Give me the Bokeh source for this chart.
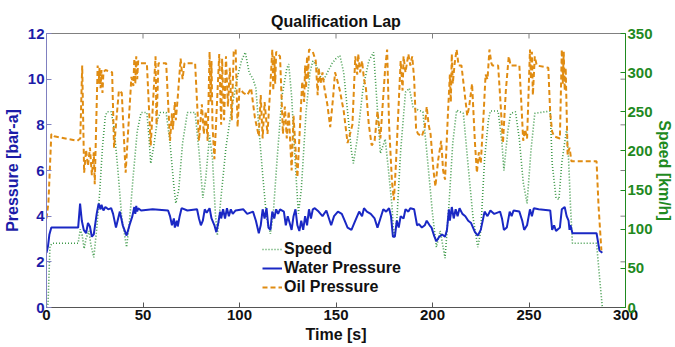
from bokeh.plotting import figure
from bokeh.models import Range1d, LinearAxis, Legend, LegendItem, FixedTicker
from bokeh.embed import file_html
from bokeh.resources import INLINE

# ---------------- data ----------------
oil_t = [0, 1, 2.5, 4, 16, 17.5, 18.5, 19.5, 20.5, 21.5, 22.5, 23.5, 24.5, 25, 26.5, 27, 27.5, 28, 28.5, 29, 29.5, 30.5,
         34, 35, 37.5, 39, 41, 44, 45, 45.5, 46, 46.5, 47, 47.5, 48.5, 52, 54, 56.5, 57, 58, 62, 64, 65, 65.5, 66.5, 67,
         68, 69.5, 70.5, 71.5, 77, 79, 80.5, 81.5, 82.5, 83.5, 84.5, 85, 85.5, 86, 87, 89.5, 90.5, 91, 92, 93, 94, 95, 96,
         97, 98, 99, 100, 102, 104, 106, 108, 110, 111, 112, 113, 114.5, 115.5, 117, 117.5, 118, 118.5, 119, 121, 122.5,
         123.5, 124.5, 125.5, 127, 128, 129, 130, 132.5, 133.5, 134, 134.5, 135, 135.5, 136, 138, 139.5, 140.5, 141, 142,
         143, 144, 145.5, 147, 148.5, 149.5, 150.5, 152, 154, 156, 158.5, 160, 161, 161.5, 162.5, 163.5, 164.5, 165.5, 167,
         168.5, 170, 171.5, 173, 175.5, 176.5, 177.5, 179, 180, 181, 183.5, 184.5, 185, 186, 187.5, 188.5, 189.5, 190.5,
         191.5, 192.5, 194.5, 196, 197, 198, 199, 200.5, 201.5, 203, 204.5, 205.5, 206.5, 208, 209, 209.5, 210, 210.5,
         211.5, 212.5, 213.5, 215, 216.5, 218, 219, 220.5, 222, 223, 224, 225, 226.5, 227.5, 228.5, 229.5, 230.5, 231, 234,
         235, 236.5, 238, 239.5, 240.5, 245, 246, 247, 248, 249, 250.5, 251, 251.5, 252, 253, 254, 260, 261, 262, 263, 266,
         267, 267.5, 268, 268.5, 269, 270, 271, 272, 285, 286, 287.5]
oil_p = [3.9, 4.6, 7.6, 7.5, 7.3, 7.4, 10.6, 5.9, 6.9, 6.2, 7.0, 5.8, 6.8, 5.4, 10.6, 9.8, 10.5, 9.6, 10.4, 9.4, 10.3, 10.4,
         10.3, 7.0, 9.5, 9.4, 5.9, 10.1, 9.7, 10.9, 9.8, 11.0, 10.0, 10.8, 10.7, 10.7, 7.1, 11.0, 8.0, 10.7, 10.7, 7.3, 8.5,
         7.8, 9.0, 8.2, 9.2, 10.9, 10.0, 10.7, 10.7, 7.3, 8.9, 7.6, 8.6, 7.3, 11.2, 9.0, 10.8, 8.0, 6.5, 11.1, 8.0, 10.9,
         8.2, 11.0, 8.8, 10.5, 8.2, 11.2, 11.3, 7.9, 9.6, 9.4, 9.3, 9.6, 8.3, 7.5, 9.3, 7.4, 9.0, 7.6, 9.0, 11.3, 9.5, 11.0,
         9.8, 11.2, 11.0, 7.6, 8.8, 7.4, 8.6, 6.0, 8.4, 7.0, 5.7, 9.9, 9.0, 10.6, 9.6, 11.0, 10.0, 11.3, 11.2, 10.8, 9.3,
         10.5, 9.8, 10.3, 9.6, 8.9, 7.9, 9.2, 10.3, 10.0, 9.5, 8.6, 7.2, 8.0, 11.0, 10.2, 11.1, 10.3, 10.8, 10.0, 9.6, 8.0,
         7.1, 7.3, 8.6, 7.4, 10.5, 11.3, 8.0, 5.5, 4.7, 6.2, 10.8, 9.5, 11.0, 10.3, 11.1, 10.6, 11.0, 10.0, 7.8, 7.6, 7.5,
         7.9, 8.8, 8.0, 7.6, 6.0, 5.3, 6.5, 7.3, 6.0, 5.6, 8.5, 10.2, 9.0, 11.1, 9.8, 10.7, 11.3, 10.6, 10.6, 9.5, 8.4, 8.8,
         9.8, 7.2, 5.9, 6.8, 6.3, 8.5, 10.2, 10.0, 11.3, 10.7, 10.6, 10.6, 9.3, 7.2, 9.5, 11.0, 10.6, 10.6, 9.0, 7.3, 7.8,
         7.4, 11.3, 10.0, 11.2, 9.3, 11.0, 10.6, 10.5, 8.5, 7.7, 7.5, 7.4, 11.3, 9.8, 11.2, 9.5, 10.5, 6.7, 7.0, 6.4, 6.4,
         4.5, 2.5]

water_t = [0, 0.8, 1.5, 2.5, 16.4, 17.4, 18.3, 19.3, 20.5, 21.5, 22.5, 23.5, 24.5, 26, 27, 28, 28.5, 29.5, 30.5, 32, 33.5,
           34.5, 36, 38, 39.5, 41.5, 43, 44.5, 45.5, 46, 46.5, 47, 47.5, 49, 55, 63, 64, 65, 66, 66.5, 67.5, 68, 69, 70,
           73, 78, 79, 80, 81, 82, 83, 84.5, 85.5, 87, 88, 89, 90, 90.5, 91.5, 92.5, 93.5, 94.5, 95.5, 96.5, 98, 102, 104,
           107, 108.5, 110, 111, 112, 113, 114, 115, 116, 117, 118, 119, 120, 121, 123, 124, 125, 126, 127, 128, 129, 130,
           131, 132, 133, 134, 135, 136, 137, 138, 139, 141, 143, 145, 147.5, 149, 151, 153, 154.5, 156, 158, 160, 162,
           163.5, 164.5, 166, 168, 170, 171.5, 173, 174.5, 176, 177.5, 178.5, 179.5, 180.5, 181.5, 182.5, 183.5, 185, 186,
           187.5, 188.5, 190.5, 192, 193, 194.5, 196, 197, 198.5, 199.5, 201, 202, 203.5, 205, 206.5, 207.5, 208.5, 209,
           210, 211, 212, 213, 214, 215.5, 217, 218.5, 220, 222, 223.5, 225, 227, 228.5, 230, 232, 235, 236, 237, 238.5,
           240, 241, 242, 245, 246.5, 247.5, 249, 250.5, 251.5, 252.5, 255, 261, 262, 263, 264, 266, 267, 268.5, 269.5,
           270.5, 271, 271.5, 272.5, 285, 286.5, 288]
water_p = [2.4, 2.7, 3.2, 3.5, 3.5, 4.55, 3.8, 3.4, 3.25, 3.7, 3.55, 3.1, 3.2, 4.1, 4.55, 4.3, 4.5, 4.25, 4.4, 4.3, 4.35,
           4.1, 3.5, 4.2, 3.6, 3.15, 3.6, 4.0, 4.4, 4.1, 4.45, 4.2, 4.35, 4.25, 4.3, 4.25, 4.0, 3.6, 3.9, 3.5, 3.8, 3.55,
           4.0, 4.35, 4.25, 4.3, 3.9, 3.6, 3.8, 4.3, 4.15, 4.35, 3.9, 3.6, 3.3, 3.7, 4.2, 3.9, 4.3, 3.9, 4.35, 4.0, 4.3,
           4.1, 4.25, 4.3, 4.1, 4.2, 3.8, 3.25, 3.6, 4.3, 3.9, 4.35, 3.5, 3.4, 4.2, 3.9, 4.3, 4.1, 4.3, 4.2, 3.6, 4.0, 3.7,
           3.4, 4.0, 4.3, 3.6, 3.35, 3.8, 3.4, 4.0, 3.6, 4.3, 3.9, 4.3, 4.35, 4.2, 4.0, 4.25, 3.6, 4.0, 4.2, 4.1, 3.8, 3.5,
           3.4, 3.8, 4.2, 4.0, 4.35, 4.2, 4.1, 3.9, 3.5, 3.9, 4.3, 4.2, 4.35, 4.0, 3.1, 3.1, 3.8, 3.5, 4.0, 3.9, 4.3, 4.2,
           4.35, 4.3, 3.6, 3.65, 3.5, 3.6, 3.8, 3.6, 3.5, 3.1, 2.9, 3.1, 3.2, 3.1, 3.4, 4.3, 3.8, 4.4, 3.9, 4.3, 4.0, 4.35,
           4.1, 4.0, 3.8, 3.7, 3.3, 3.15, 3.4, 4.2, 4.0, 4.25, 4.1, 4.2, 3.9, 3.4, 3.5, 4.2, 4.0, 4.25, 4.2, 3.8, 3.4, 3.6,
           4.3, 4.0, 4.35, 4.3, 4.25, 3.4, 3.6, 3.35, 3.5, 4.3, 4.4, 4.0, 3.8, 3.4, 3.6, 3.25, 3.25, 2.5, 2.4]

speed_t = [0, 0.8, 1.8, 3, 16.4, 17.5, 18.5, 19.5, 20.5, 22, 23, 24.5, 26, 27.5, 29, 30.5, 31.5, 33.5, 35, 37, 39, 41.5,
           43, 45, 47, 49, 52, 53, 54, 55.5, 57.5, 59, 62, 64, 66, 67, 68.5, 70.5, 73, 77, 79, 81, 82.5, 84.5, 86, 87.5,
           88.5, 90, 93, 96, 99, 101, 103, 105, 107, 108.5, 110, 112, 114, 116, 117.5, 119.5, 122, 124.5, 125.5, 127, 129,
           130.5, 132, 134.5, 136.5, 138, 140, 142, 143.5, 145.5, 148, 150, 152, 154, 156, 158, 159, 161, 164, 167, 169.5,
           171, 173, 175.5, 177, 179, 180, 181.5, 183.5, 186, 188, 190, 195, 197, 200, 202, 204, 206.5, 208.5, 210.5,
           212.5, 216, 218.5, 221, 223.5, 225, 227, 229, 230, 234, 236, 237, 239, 240.5, 243, 245, 247, 249, 251, 253, 261,
           262, 264, 265.5, 267, 269.5, 270.5, 271.5, 272.5, 285, 286.5, 288]
speed_v = [0, 5, 78, 82, 82, 100, 92, 75, 88, 98, 80, 64, 100, 145, 205, 245, 250, 250, 230, 175, 115, 77, 110, 170, 225,
           249, 249, 220, 184, 205, 240, 249, 249, 210, 155, 133, 150, 210, 249, 249, 200, 140, 165, 220, 190, 120, 92, 130,
           205, 255, 295, 315, 326, 300, 292, 280, 230, 170, 115, 94, 120, 190, 270, 305, 311, 270, 180, 120, 150, 250, 300,
           315, 308, 295, 290, 300, 312, 318, 322, 300, 250, 200, 184, 215, 280, 315, 326, 270, 197, 215, 180, 130, 90, 110,
           200, 275, 280, 255, 250, 200, 120, 77, 98, 63, 130, 210, 252, 248, 180, 115, 77, 98, 190, 240, 251, 251, 210,
           175, 225, 248, 250, 215, 160, 133, 200, 248, 251, 184, 140, 138, 185, 228, 190, 130, 82, 82, 40, 0]

x_ticks = [0, 50, 100, 150, 200, 250, 300]
pressure_ticks = [0, 2, 4, 6, 8, 10, 12]
speed_ticks = [0, 50, 100, 150, 200, 250, 300, 350]

# ---------------- styling ----------------
FONT = "Liberation Sans"
BLUE_TXT = "#1c1ca8"
GREEN_TXT = "#1f8a1f"
WATER_C = "#1a28c4"
OIL_C = "#e08c12"
SPEED_C = "#3f9a4a"

X_MIN, X_MAX = 0, 300
Y_MIN, Y_MAX = 0, 12

p = figure(width=675, height=347, output_backend="svg", toolbar_location=None,
           x_range=Range1d(X_MIN, X_MAX), y_range=Range1d(Y_MIN, Y_MAX),
           min_border_left=45, min_border_right=45, min_border_top=33, min_border_bottom=40)
p.extra_y_ranges = {"speed": Range1d(0, 350)}
p.xgrid.visible = False
p.ygrid.visible = False
p.outline_line_color = "#808080"
p.background_fill_color = "white"
p.border_fill_color = "white"

p.title.text = "Qualification Lap"
p.title.align = "center"
p.title.text_font = FONT
p.title.text_font_size = "16px"
p.title.text_font_style = "bold"
p.title.text_color = "#111111"
p.title.standoff = 8


def style_axis(ax, color, label_color):
    ax.major_tick_in = 5
    ax.major_tick_out = 0
    ax.minor_tick_in = 0
    ax.minor_tick_out = 0
    ax.axis_line_color = color
    ax.major_tick_line_color = color
    ax.major_label_text_font = FONT
    ax.major_label_text_font_size = "15px"
    ax.major_label_text_font_style = "bold"
    ax.major_label_text_color = label_color
    ax.axis_label_text_font = FONT
    ax.axis_label_text_font_size = "16px"
    ax.axis_label_text_font_style = "bold"
    ax.axis_label_text_color = label_color
    ax.major_label_standoff = 2


xa = p.xaxis[0]
xa.ticker = FixedTicker(ticks=x_ticks)
xa.axis_label = "Time [s]"
style_axis(xa, "#555555", "#111111")
xa.axis_label_standoff = 3

ya = p.yaxis[0]
ya.ticker = FixedTicker(ticks=pressure_ticks)
ya.axis_label = "Pressure [bar-a]"
style_axis(ya, "#8080c0", BLUE_TXT)
ya.axis_label_standoff = 4

ra = LinearAxis(y_range_name="speed", ticker=FixedTicker(ticks=speed_ticks), axis_label="Speed [km/h]")
style_axis(ra, GREEN_TXT, GREEN_TXT)
ra.axis_label_standoff = 0
p.add_layout(ra, "right")

# mirrored inward tick marks (top edge for time, right edge for pressure), MATLAB style
tick_len_y = 0.22   # in bar
tick_len_x = 2.6    # in seconds
inner_x = [t for t in x_ticks if X_MIN < t < X_MAX]
p.segment(x0=inner_x, y0=[Y_MAX] * len(inner_x), x1=inner_x, y1=[Y_MAX - tick_len_y] * len(inner_x),
          line_color="#808080", line_width=1)
inner_p = [v for v in pressure_ticks if Y_MIN < v < Y_MAX]
p.segment(x0=[X_MAX] * len(inner_p), y0=inner_p, x1=[X_MAX - tick_len_x] * len(inner_p), y1=inner_p,
          line_color="#808080", line_width=1)

r_speed = p.line(speed_t, speed_v, y_range_name="speed", line_color=SPEED_C, line_width=1.6, line_dash="1 2")
r_water = p.line(water_t, water_p, line_color=WATER_C, line_width=2)
r_oil = p.line(oil_t, oil_p, line_color=OIL_C, line_width=2, line_dash="5 3")

legend = Legend(items=[LegendItem(label="Speed", renderers=[r_speed]),
                       LegendItem(label="Water Pressure", renderers=[r_water]),
                       LegendItem(label="Oil Pressure", renderers=[r_oil])],
                location=(216, 11))
legend.label_text_font = FONT
legend.label_text_font_size = "16px"
legend.label_text_font_style = "bold"
legend.label_text_color = "#111111"
legend.glyph_width = 20
legend.glyph_height = 18
legend.label_height = 18
legend.label_standoff = 2
legend.spacing = 1
legend.padding = 0
legend.margin = 0
legend.border_line_alpha = 0
legend.background_fill_alpha = 0
p.add_layout(legend)

open("out.html", "w").write(file_html(p, INLINE))
